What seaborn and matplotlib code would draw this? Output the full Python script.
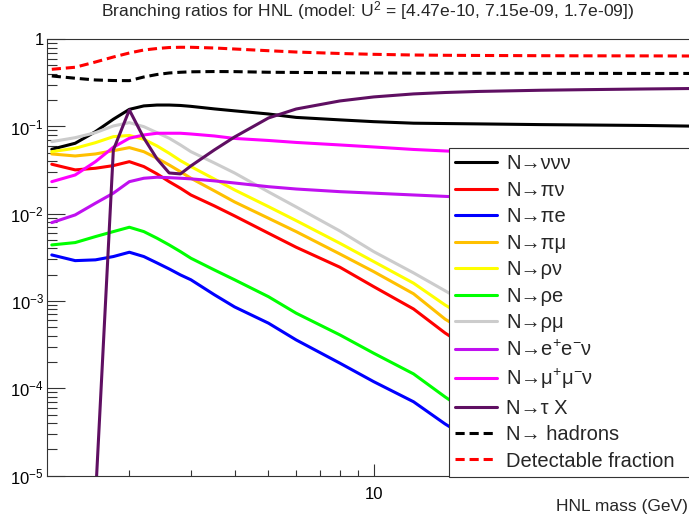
import numpy as np
import pandas as pd
import matplotlib
matplotlib.use('Agg')
import matplotlib.pyplot as plt
from matplotlib.ticker import LogLocator, NullFormatter
import seaborn as sns

# ====================
#  DATA
# ====================

mass = [1.2, 1.4, 1.6, 1.8, 2.0, 2.2, 2.4, 2.6, 2.8, 3.0, 3.5, 4.0,
        5.0, 6.0, 8.0, 10.0, 13.0, 16.0, 20.0, 30.0, 40.0, 60.0, 80.0]

br_nununu = [0.0548, 0.0642, 0.0872, 0.121, 0.157, 0.172, 0.176, 0.176, 0.174, 0.170, 0.159, 0.151,
             0.139, 0.127, 0.119, 0.1135, 0.109, 0.108, 0.107, 0.105, 0.104, 0.1026, 0.101]
br_pinu = [0.0369, 0.0318, 0.0332, 0.0356, 0.0395, 0.0347, 0.0286, 0.0233, 0.0196, 0.0164, 0.0123, 0.00944,
           0.00598, 0.00413, 0.00244, 0.00146, 0.00081, 0.00043, 0.00024, 9.6e-5, 5.0e-5, 1.7e-5, 7.8e-6]
br_pie = [0.00337, 0.00290, 0.00296, 0.00323, 0.00362, 0.00323, 0.00273, 0.00233, 0.00199, 0.00175, 0.00118, 0.000855,
          0.000557, 0.000358, 0.000194, 0.000119, 7.0e-5, 3.9e-5, 2.25e-5, 8.9e-6, 5e-6, 2.5e-6, 1.5e-6]
br_pimu = [0.0484, 0.0459, 0.0484, 0.0528, 0.0572, 0.0514, 0.0432, 0.0362, 0.0303, 0.0255, 0.0183, 0.01365,
           0.00888, 0.00624, 0.00346, 0.00217, 0.00121, 0.00062, 0.00036, 0.000142, 7.4e-5, 2.6e-5, 1.16e-5]
br_rhonu = [0.0514, 0.0563, 0.0652, 0.0764, 0.0789, 0.0713, 0.0598, 0.0493, 0.0406, 0.0347, 0.0250, 0.01875,
            0.01206, 0.00834, 0.00459, 0.00283, 0.00160, 0.00090, 0.00053, 0.000211, 0.000109, 3.8e-5, 1.73e-5]
br_rhoe = [0.00439, 0.00467, 0.00547, 0.00624, 0.00700, 0.00624, 0.00524, 0.00439, 0.00368, 0.00309, 0.00227, 0.00175,
           0.00112, 0.000725, 0.000409, 0.000252, 0.000146, 7.96e-5, 4.35e-5, 1.73e-5, 8.9e-6, 4e-6, 2e-6]
br_rhomu = [0.0670, 0.0744, 0.0849, 0.1014, 0.1106, 0.0995, 0.0849, 0.0733, 0.0614, 0.0514, 0.0382, 0.0293,
            0.0178, 0.01197, 0.00635, 0.00368, 0.00210, 0.00131, 0.00079, 0.000314, 0.000163, 5.7e-5, 2.6e-5]
br_eenu = [0.00791, 0.00969, 0.0132, 0.0172, 0.0233, 0.0255, 0.0262, 0.0259, 0.0255, 0.0251, 0.0238, 0.0225,
           0.0204, 0.0192, 0.0179, 0.0172, 0.0164, 0.0158, 0.0152, 0.0144, 0.0140, 0.0137, 0.0133]
br_mumunu = [0.0233, 0.0278, 0.0395, 0.0578, 0.0733, 0.0799, 0.0836, 0.0836, 0.0836, 0.0820, 0.0778, 0.0729,
             0.0691, 0.0656, 0.0614, 0.0582, 0.0545, 0.0524, 0.0504, 0.0478, 0.0466, 0.0448, 0.0436]
br_taux = [np.nan, np.nan, 5.5e-6, 0.0538, 0.1545, 0.0738, 0.0425, 0.0293, 0.0286, 0.0353, 0.0538, 0.0758,
           0.1251, 0.1585, 0.196, 0.218, 0.236, 0.245, 0.252, 0.260, 0.264, 0.269, 0.272]
br_hadrons = [0.379, 0.357, 0.341, 0.336, 0.335, 0.369, 0.394, 0.410, 0.418, 0.423, 0.426, 0.425,
              0.418, 0.416, 0.413, 0.410, 0.408, 0.407, 0.407, 0.406, 0.406, 0.405, 0.405]
br_detectable = [0.452, 0.477, 0.548, 0.625, 0.695, 0.752, 0.782, 0.803, 0.808, 0.808, 0.793, 0.772,
                 0.738, 0.713, 0.686, 0.671, 0.659, 0.654, 0.651, 0.647, 0.645, 0.644, 0.642]

channels = ['N→ννν', 'N→πν', 'N→πe', 'N→πμ', 'N→ρν', 'N→ρe', 'N→ρμ',
            'N→e$^{+}$e$^{-}$ν', 'N→μ$^{+}$μ$^{-}$ν', 'N→τ X', 'N→ hadrons', 'Detectable fraction']
series = [br_nununu, br_pinu, br_pie, br_pimu, br_rhonu, br_rhoe, br_rhomu,
          br_eenu, br_mumunu, br_taux, br_hadrons, br_detectable]
colors = ['#000000', '#ff0000', '#0000ff', '#ffc000', '#ffff00', '#00ff00', '#cccccc',
          '#c010f0', '#ff00ff', '#5f0f62', '#000000', '#ff0000']

y_ticks = [1e-5, 1e-4, 1e-3, 1e-2, 1e-1, 1]
y_labels = ['10$^{-5}$', '10$^{-4}$', '10$^{-3}$', '10$^{-2}$', '10$^{-1}$', '1']

# ====================
#  PLOT
# ====================

sns.set_theme(style='ticks')
plt.rcParams['font.family'] = ['Liberation Sans', 'DejaVu Sans']
plt.rcParams['mathtext.fontset'] = 'custom'
plt.rcParams['mathtext.rm'] = 'Liberation Sans'
plt.rcParams['mathtext.it'] = 'Liberation Sans'
plt.rcParams['mathtext.default'] = 'regular'

frames = []
for name, vals in zip(channels, series):
    frames.append(pd.DataFrame({'mass': mass, 'br': vals, 'channel': name}))
df = pd.concat(frames).dropna()

palette = dict(zip(channels, colors))
dashes = {c: '' for c in channels}
dashes['N→ hadrons'] = (3, 1.6)
dashes['Detectable fraction'] = (3, 1.6)

fig = plt.figure(figsize=(6.89, 5.22), dpi=100)
ax = fig.add_axes([47.3 / 689, 1 - 475.5 / 522, (689.4 - 47.3) / 689, (475.5 - 39.2) / 522])

sns.lineplot(data=df, x='mass', y='br', hue='channel', style='channel',
             hue_order=channels, style_order=channels, palette=palette, dashes=dashes,
             linewidth=2.2, estimator=None, sort=False, legend=False, ax=ax)

ax.set_xscale('log')
ax.set_yscale('log')
ax.set_xlim(1.165, 80)
ax.set_ylim(1e-5, 1)

ax.set_xticks([10], labels=['10'])
ax.xaxis.set_minor_locator(LogLocator(base=10, subs=np.arange(2, 10)))
ax.xaxis.set_minor_formatter(NullFormatter())
ax.set_yticks(y_ticks, labels=y_labels)
ax.yaxis.set_minor_locator(LogLocator(base=10, subs=np.arange(2, 10)))
ax.yaxis.set_minor_formatter(NullFormatter())

ax.tick_params(axis='both', which='both', direction='in', colors='#333333',
               labelcolor='black', labelsize=12, width=0.8)
ax.tick_params(axis='x', which='major', length=8.5, pad=8)
ax.tick_params(axis='x', which='minor', length=4.3)
ax.tick_params(axis='y', which='major', length=13, pad=2.5)
ax.tick_params(axis='y', which='minor', length=7)

ax.set_xlabel('')
ax.set_ylabel('')
for side in ['left', 'bottom', 'top']:
    ax.spines[side].set_color('#333333')
    ax.spines[side].set_linewidth(0.8)
ax.spines['right'].set_visible(False)

leg = ax.legend(ax.get_lines(), channels, loc='upper left',
                bbox_to_anchor=(449 / 689, 1 - 148.3 / 522, 0.36, 0.0),
                bbox_transform=fig.transFigure, mode='expand', borderaxespad=0,
                fontsize=14.5, frameon=True, fancybox=False, framealpha=1,
                edgecolor='#333333', handlelength=2.1, handletextpad=0.45,
                labelspacing=0.37, borderpad=0.3)
leg.get_frame().set_linewidth(0.8)

fig.text(367.5 / 689, 1 - 16 / 522, 'Branching ratios for HNL (model: U$^{2}$ = [4.47e-10, 7.15e-09, 1.7e-09])',
         ha='center', va='baseline', fontsize=12.6)
fig.text(688 / 689, 1 - 507 / 522, 'HNL mass (GeV)', ha='right', va='center', fontsize=12.5)

plt.savefig('out.png', dpi=100)
plt.close()
